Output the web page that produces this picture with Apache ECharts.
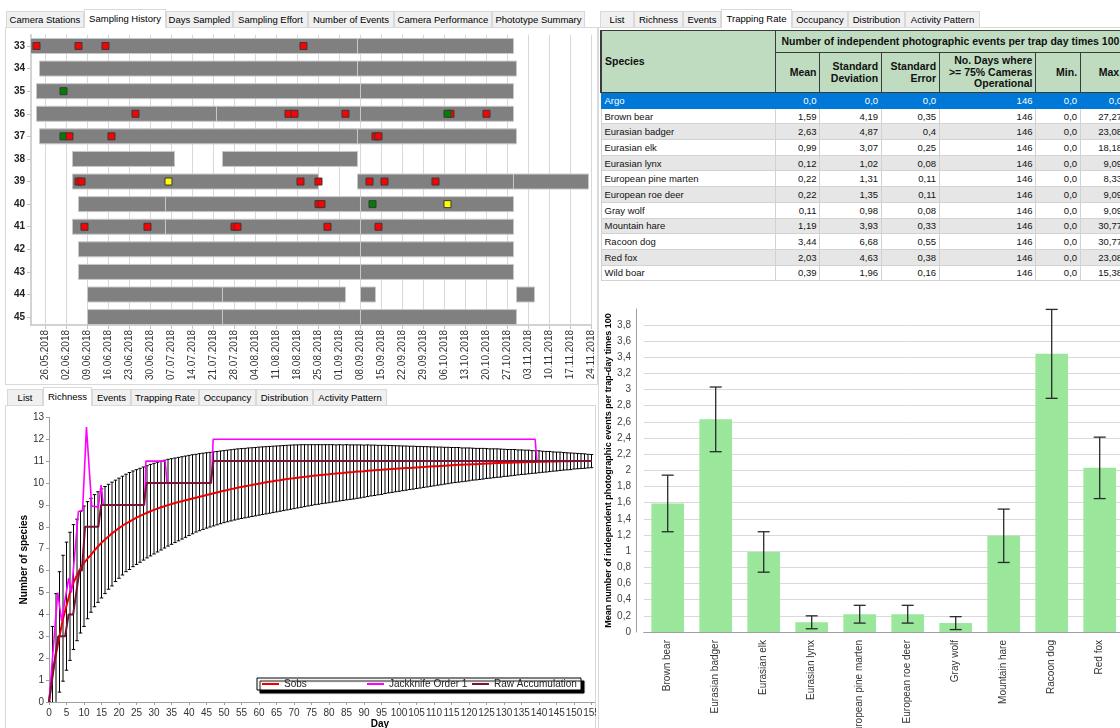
<!DOCTYPE html>
<html><head><meta charset="utf-8">
<script src="https://cdn.jsdelivr.net/npm/echarts@6.0.0/dist/echarts.min.js"></script>
<style>
html,body{margin:0;padding:0;width:1120px;height:728px;overflow:hidden;background:#fff;font-family:"Liberation Sans",Arial,sans-serif;}
.abs{position:absolute;}
.panel{position:absolute;border:1px solid #d9d9d9;box-sizing:border-box;background:#fff;}
.tab{position:absolute;height:16px;box-sizing:border-box;border:1px solid #d9d9d9;border-bottom:none;background:#f0f0f0;font-size:9.5px;line-height:15px;text-align:center;color:#000;white-space:nowrap;}
.tab.active{height:19px;background:#fff;z-index:2;}
#tbl{position:absolute;left:600px;top:30px;border-collapse:collapse;table-layout:fixed;font-size:9.5px;color:#111;}
#tbl th{background:#c0dcc0;border:1px solid #3a3a3a;font-weight:bold;padding:0 3px;color:#111;line-height:11.5px;font-size:10.5px;}
#tbl td{border:1px solid #d2d2d2;padding:0 3px;white-space:nowrap;overflow:hidden;line-height:13px;}
#tbl td.num{text-align:right;}
#tbl tr.alt td{background:#e6e6e6;}
#tbl tr.sel td{background:#0078d7;color:#fff;border-color:#0078d7;}
</style>
</head><body>
<div class="panel" style="left:5px;top:27px;width:593px;height:358px"></div>
<div class="panel" style="left:598px;top:27px;width:540px;height:720px;border-right:none"></div>
<div class="panel" style="left:5px;top:405px;width:591px;height:340px"></div>
<div id="tabsTL"></div><div id="tabsTR"></div><div id="tabsBL"></div>
<div id="gantt" class="abs" style="left:0;top:28px;width:598px;height:360px"></div>
<table id="tbl"></table>
<div id="rich" class="abs" style="left:0;top:405px;width:596px;height:323px"></div>
<div id="bars" class="abs" style="left:598px;top:290px;width:600px;height:438px"></div>
<script>
// ---------------- DATA ----------------
const tabsTopLeft = ['Camera Stations','Sampling History','Days Sampled','Sampling Effort','Number of Events','Camera Performance','Phototype Summary'];
const tabsAnalysis = ['List','Richness','Events','Trapping Rate','Occupancy','Distribution','Activity Pattern'];

const ganttStations = ['33','34','35','36','37','38','39','40','41','42','43','44','45'];
const ganttTickDates = ['2018-05-26','2018-06-02','2018-06-09','2018-06-16','2018-06-23','2018-06-30','2018-07-07','2018-07-14','2018-07-21','2018-07-28','2018-08-04','2018-08-11','2018-08-18','2018-08-25','2018-09-01','2018-09-08','2018-09-15','2018-09-22','2018-09-29','2018-10-06','2018-10-13','2018-10-20','2018-10-27','2018-11-03','2018-11-10','2018-11-17','2018-11-24'];
const ganttPeriods = [
 ['33','2018-05-21','2018-09-07'],['33','2018-09-07','2018-10-29'],
 ['34','2018-05-24','2018-09-07'],['34','2018-09-07','2018-10-30'],
 ['35','2018-05-23','2018-09-08'],['35','2018-09-08','2018-10-29'],
 ['36','2018-05-23','2018-07-22'],['36','2018-07-22','2018-09-08'],['36','2018-09-08','2018-10-29'],
 ['37','2018-05-24','2018-09-07'],['37','2018-09-07','2018-10-30'],
 ['38','2018-06-04','2018-07-08'],['38','2018-07-24','2018-09-07'],
 ['39','2018-06-04','2018-08-25'],['39','2018-09-07','2018-10-29'],['39','2018-10-29','2018-11-23'],
 ['40','2018-06-06','2018-07-05'],['40','2018-07-05','2018-09-08'],['40','2018-09-08','2018-10-29'],
 ['41','2018-06-04','2018-07-05'],['41','2018-07-05','2018-09-08'],['41','2018-09-08','2018-10-29'],
 ['42','2018-06-06','2018-09-08'],['42','2018-09-08','2018-10-29'],
 ['43','2018-06-06','2018-09-08'],['43','2018-09-08','2018-10-29'],
 ['44','2018-06-09','2018-07-24'],['44','2018-07-24','2018-09-03'],['44','2018-09-08','2018-09-13'],['44','2018-10-30','2018-11-05'],
 ['45','2018-06-09','2018-07-24'],['45','2018-07-24','2018-09-08'],['45','2018-09-08','2018-10-30']
];
const ganttEvents = [
 ['33','2018-05-23','red'],['33','2018-06-06','red'],['33','2018-06-15','red'],['33','2018-08-20','red'],
 ['35','2018-06-01','green'],
 ['36','2018-06-25','red'],['36','2018-08-15','red'],['36','2018-08-17','red'],['36','2018-09-03','red'],['36','2018-10-08','red'],['36','2018-10-07','green'],['36','2018-10-20','red'],
 ['37','2018-06-01','green'],['37','2018-06-03','red'],['37','2018-06-17','red'],['37','2018-09-13','red'],['37','2018-09-14','red'],
 ['39','2018-06-06','red'],['39','2018-06-07','red'],['39','2018-07-06','yellow'],['39','2018-08-19','red'],['39','2018-08-25','red'],['39','2018-09-11','red'],['39','2018-09-16','red'],['39','2018-10-03','red'],
 ['40','2018-08-25','red'],['40','2018-08-26','red'],['40','2018-09-12','green'],['40','2018-10-07','yellow'],
 ['41','2018-06-08','red'],['41','2018-06-29','red'],['41','2018-07-28','red'],['41','2018-07-29','red'],['41','2018-08-28','red'],['41','2018-09-14','red']
];

const species = ['Argo','Brown bear','Eurasian badger','Eurasian elk','Eurasian lynx','European pine marten','European roe deer','Gray wolf','Mountain hare','Racoon dog','Red fox','Wild boar'];
const rateMean = [0,1.59,2.63,0.99,0.12,0.22,0.22,0.11,1.19,3.44,2.03,0.39];
const rateSD   = [0,4.19,4.87,3.07,1.02,1.31,1.35,0.98,3.93,6.68,4.63,1.96];
const rateSE   = [0,0.35,0.4,0.25,0.08,0.11,0.11,0.08,0.33,0.55,0.38,0.16];
const rateDays = [146,146,146,146,146,146,146,146,146,146,146,146];
const rateMin  = [0,0,0,0,0,0,0,0,0,0,0,0];
const rateMax  = [0,27.27,23.08,18.18,9.09,8.33,9.09,9.09,30.77,30.77,23.08,15.38];

const richDays = 156;
const sobs = [0,1.3,2.2,3.0,3.8,4.4,5.0,5.45,5.8,6.1,
 6.35,6.55,6.72,6.92,7.1,7.27,7.42,7.56,7.7,7.82,
 7.94,8.05,8.15,8.24,8.33,8.42,8.5,8.57,8.64,8.71,
 8.77,8.83,8.89,8.94,8.99,9.04,9.09,9.13,9.17,9.21,
 9.25,9.29,9.33,9.37,9.41,9.45,9.49,9.53,9.57,9.61,
 9.65,9.68,9.72,9.75,9.79,9.82,9.85,9.88,9.91,9.94,
 9.97,10.0,10.03,10.06,10.08,10.11,10.13,10.16,10.18,10.2,
 10.22,10.24,10.26,10.28,10.3,10.32,10.34,10.35,10.37,10.39,
 10.4,10.42,10.43,10.45,10.46,10.48,10.49,10.5,10.52,10.53,
 10.54,10.56,10.57,10.58,10.59,10.6,10.62,10.63,10.64,10.65,
 10.66,10.67,10.68,10.69,10.7,10.71,10.72,10.73,10.74,10.75,
 10.76,10.77,10.78,10.79,10.8,10.81,10.82,10.83,10.83,10.84,
 10.85,10.86,10.86,10.87,10.88,10.89,10.89,10.9,10.91,10.91,
 10.92,10.92,10.93,10.94,10.94,10.95,10.95,10.96,10.96,10.96,
 10.97,10.97,10.97,10.98,10.98,10.98,10.99,10.99,10.99,10.99,
 11.0,11.0,11.0,11.0,11.0,11.0];
// error bar extent above / below Sobs, per day
const errUp = [0,2.15,2.75,2.95,2.9,2.9,2.75,2.65,2.55,2.6,
 2.6,2.6,2.58,2.55,2.5,2.46,2.42,2.38,2.34,2.31,
 2.28,2.26,2.25,2.24,2.22,2.19,2.17,2.16,2.15,2.14,
 2.13,2.12,2.11,2.1,2.09,2.07,2.05,2.04,2.03,2.02,
 2.01,2.0,1.98,1.97,1.95,1.93,1.91,1.89,1.87,1.85,
 1.83,1.82,1.8,1.79,1.77,1.75,1.73,1.72,1.7,1.68,
 1.67,1.65,1.63,1.61,1.6,1.58,1.57,1.55,1.54,1.53,
 1.52,1.5,1.49,1.47,1.45,1.43,1.41,1.4,1.38,1.36,
 1.35,1.33,1.31,1.3,1.28,1.27,1.25,1.24,1.22,1.21,
 1.19,1.18,1.16,1.15,1.13,1.12,1.1,1.08,1.07,1.05,
 1.04,1.02,1.01,0.99,0.98,0.96,0.95,0.93,0.92,0.9,
 0.89,0.87,0.86,0.84,0.83,0.81,0.8,0.79,0.77,0.76,
 0.75,0.73,0.72,0.71,0.7,0.68,0.67,0.66,0.65,0.64,
 0.62,0.61,0.6,0.59,0.57,0.56,0.55,0.54,0.52,0.51,
 0.5,0.48,0.47,0.46,0.44,0.43,0.42,0.4,0.39,0.38,
 0.36,0.35,0.34,0.33,0.31,0.3];
const errDown = [0,2.2,2.7,2.55,2.85,2.95,3.1,3.05,3.0,2.95,
 2.9,2.75,2.62,2.57,2.55,2.52,2.47,2.41,2.4,2.32,
 2.29,2.25,2.2,2.19,2.15,2.14,2.12,2.09,2.06,2.04,
 2.01,1.98,1.95,1.91,1.87,1.84,1.81,1.77,1.73,1.69,
 1.65,1.61,1.57,1.55,1.53,1.51,1.5,1.49,1.48,1.47,
 1.46,1.45,1.45,1.44,1.44,1.44,1.44,1.44,1.44,1.44,
 1.44,1.44,1.44,1.44,1.43,1.43,1.42,1.42,1.41,1.4,
 1.39,1.38,1.37,1.36,1.35,1.34,1.33,1.32,1.31,1.31,
 1.3,1.29,1.28,1.27,1.26,1.25,1.24,1.23,1.22,1.21,
 1.19,1.18,1.16,1.15,1.13,1.12,1.1,1.08,1.07,1.05,
 1.04,1.02,1.01,0.99,0.98,0.96,0.95,0.93,0.92,0.9,
 0.89,0.87,0.86,0.84,0.83,0.81,0.8,0.79,0.77,0.76,
 0.75,0.73,0.72,0.71,0.7,0.68,0.67,0.66,0.65,0.64,
 0.62,0.61,0.6,0.59,0.57,0.56,0.55,0.54,0.52,0.51,
 0.5,0.48,0.47,0.46,0.44,0.43,0.42,0.4,0.39,0.38,
 0.36,0.35,0.34,0.33,0.31,0.3];
const jackknife1 = [[0,0],[2.5,5.0],[3.6,3.7],[5.6,5.65],[6.4,5.0],[8.4,8.7],[9.6,8.75],[10.7,12.55],[12.2,8.95],[14.1,8.9],[14.9,9.9],[15.5,9.0],[27.3,9],[27.7,11],[33.2,11],[33.7,10],[46.4,10],[46.9,12],[138.9,12],[139.4,11],[155,11]];
const rawAccum = [[0,0],[2.6,3],[4.6,3],[5.6,4],[6.9,4],[8.7,6],[9.4,6],[10.3,8],[14.1,8],[14.9,9],[27.1,9],[27.9,10],[46.2,10],[47,11],[155,11]];
const richLegend = ['Sobs','Jackknife Order 1','Raw Accumulation'];

// ---------------- LAYOUT / STYLE ----------------
const FONT = '"Liberation Sans", Arial, sans-serif';
const eventColors = {red:'#ff0000', green:'#008000', yellow:'#ffff00'};

function buildTabs(id, labels, left0, widths, top, active){
  const el = document.getElementById(id);
  let x = left0, html = '';
  labels.forEach((t,i)=>{
    const a = i===active;
    html += '<div class="tab'+(a?' active':'')+'" style="left:'+x+'px;top:'+(a?top-2:top)+'px;width:'+widths[i]+'px;line-height:'+(a?17:15)+'px">'+t+'</div>';
    x += widths[i];
  });
  el.innerHTML = html;
}
buildTabs('tabsTL', tabsTopLeft, 6, [78,82,67,75,86,98,93], 11, 1);
buildTabs('tabsTR', tabsAnalysis, 600, [34,49,38,71,56,57,75], 11, 3);
buildTabs('tabsBL', tabsAnalysis, 7, [36,49,39,68,57,57,74], 389, 1);

// ---------------- TABLE ----------------
function fmtDec(v){ return Number.isInteger(v) ? v + ',0' : String(v).replace('.', ','); }
(function(){
  const widths = [174.3,44.7,61.6,58,96.4,44.6,45];
  const tbl = document.getElementById('tbl');
  tbl.style.width = widths.reduce((a,b)=>a+b,0) + 'px';
  let h = '<colgroup>' + widths.map(w=>'<col style="width:'+w+'px">').join('') + '</colgroup>';
  h += '<tr style="height:22px"><th rowspan="2" style="text-align:left;border-left:2px solid #3a3a3a">Species</th><th colspan="6" style="text-align:center;white-space:nowrap">Number of independent photographic events per trap day times 100</th></tr>';
  h += '<tr style="height:40px"><th style="text-align:right">Mean</th><th style="text-align:right">Standard<br>Deviation</th><th style="text-align:right">Standard<br>Error</th><th style="text-align:right">No. Days where<br>&gt;= 75% Cameras<br>Operational</th><th style="text-align:right">Min.</th><th style="text-align:right">Max.</th></tr>';
  species.forEach((s,i)=>{
    const cls = i===0 ? 'sel' : (i%2===0 ? 'alt' : '');
    h += '<tr class="'+cls+'" style="height:15.7px"><td>'+s+'</td><td class="num">'+fmtDec(rateMean[i])+'</td><td class="num">'+fmtDec(rateSD[i])+'</td><td class="num">'+fmtDec(rateSE[i])+'</td><td class="num">'+rateDays[i]+'</td><td class="num">'+fmtDec(rateMin[i])+'</td><td class="num">'+fmtDec(rateMax[i])+'</td></tr>';
  });
  tbl.innerHTML = h;
})();

// ---------------- GANTT ----------------
const ORIGIN = Date.UTC(2018,4,26);
function toDay(s){ const p = s.split('-').map(Number); return (Date.UTC(p[0],p[1]-1,p[2]) - ORIGIN)/86400000; }
function dayLabel(d){ const dt = new Date(ORIGIN + d*86400000); const dd = String(dt.getUTCDate()).padStart(2,'0'); const mm = String(dt.getUTCMonth()+1).padStart(2,'0'); return dd+'.'+mm+'.'+dt.getUTCFullYear(); }
const tickDays = ganttTickDates.map(toDay);
const rowIdx = s => ganttStations.indexOf(s);

const gantt = echarts.init(document.getElementById('gantt'), null, {renderer:'canvas'});
gantt.setOption({
  animation:false,
  textStyle:{fontFamily:FONT},
  grid:{left:31, right:6.5, top:6.7, bottom:63, containLabel:false, outerBoundsMode:'none'},
  xAxis:{type:'value', min:-4.83, max:tickDays[tickDays.length-1],
    axisLine:{onZero:false, lineStyle:{color:'#c4c4c4', width:1.5}},
    axisTick:{customValues:tickDays, length:4, lineStyle:{color:'#c4c4c4'}},
    axisLabel:{customValues:tickDays, rotate:90, fontSize:10, color:'#333', margin:5, formatter:v=>dayLabel(v)},
    splitLine:{show:false}},
  yAxis:{type:'value', inverse:true, min:-0.5, max:12.35,
    axisLine:{show:true, onZero:false, lineStyle:{color:'#c4c4c4', width:1.5}},
    axisTick:{show:true, customValues:ganttStations.map((s,i)=>i), length:4, lineStyle:{color:'#c4c4c4'}},
    axisLabel:{customValues:ganttStations.map((s,i)=>i), fontSize:10, fontWeight:'bold', color:'#222', margin:6, formatter:v=>ganttStations[v]},
    splitLine:{show:false}},
  series:[
    {type:'custom', name:'grid', silent:true, z:1,
     data: tickDays.map(d=>[d, 0]),
     renderItem:(params, api)=>{
       const x = api.coord([api.value(0), 0])[0];
       const cs = params.coordSys;
       return {type:'line', shape:{x1:x, y1:cs.y, x2:x, y2:cs.y+cs.height}, style:{stroke:'#d8d8d8', lineWidth:1}};
     }},
    {type:'custom', name:'Operational', clip:true, z:2,
     data: ganttPeriods.map(p=>[toDay(p[1]), toDay(p[2]), rowIdx(p[0])]),
     encode:{x:[0,1], y:2},
     renderItem:(params, api)=>{
       const a = api.coord([api.value(0), api.value(2)]);
       const b = api.coord([api.value(1), api.value(2)]);
       const h = 15;
       return {type:'rect', shape:{x:a[0], y:a[1]-h/2, width:b[0]-a[0], height:h}, style:{fill:'#808080', stroke:'#c8c8c8', lineWidth:1}};
     }},
    {type:'custom', name:'Events', clip:true, z:3,
     data: ganttEvents.map(e=>[toDay(e[1]), rowIdx(e[0])]),
     encode:{x:0, y:1},
     renderItem:(params, api)=>{
       const c = api.coord([api.value(0), api.value(1)]);
       const s = 7;
       return {type:'rect', shape:{x:c[0]-s/2, y:c[1]-s/2, width:s, height:s}, style:{fill:eventColors[ganttEvents[params.dataIndex][2]], stroke:'#383838', lineWidth:1}};
     }}
  ]
});

// ---------------- RICHNESS ----------------
const dayIdx = Array.from({length:richDays}, (_,i)=>i);
const rich = echarts.init(document.getElementById('rich'));
rich.setOption({
  animation:false,
  textStyle:{fontFamily:FONT},
  grid:{left:49, right:1, top:12.3, bottom:26, containLabel:false, outerBoundsMode:'none'},
  legend:{data:richLegend, left:257, top:273, icon:'rect', itemWidth:17, itemHeight:2, itemGap:0, padding:[1,4,1,5],
    backgroundColor:'#fff', borderColor:'#000', borderWidth:1, borderRadius:0,
    shadowColor:'#000', shadowBlur:1, shadowOffsetX:3, shadowOffsetY:3,
    itemStyle:{borderWidth:0},
    selectedMode:false,
    formatter: n => '{a|' + n + '}',
    textStyle:{fontSize:10, color:'#222', rich:{a:{width:83, fontSize:10, color:'#222', lineHeight:12}}}},
  xAxis:{type:'value', min:0, max:156, interval:5,
    name:'Day', nameLocation:'middle', nameGap:17, nameMoveOverlap:false, nameTextStyle:{fontWeight:'bold', fontSize:10, color:'#000', padding:[0,0,0,116]},
    axisLine:{onZero:false, lineStyle:{color:'#a0a0a0'}}, axisTick:{length:3, lineStyle:{color:'#a0a0a0'}},
    axisLabel:{fontSize:10, color:'#333', margin:6, showMaxLabel:false, formatter:v=> (v%5===0 ? String(v) : '')},
    splitLine:{show:false}},
  yAxis:{type:'value', min:0, max:13, interval:1,
    name:'Number of species', nameLocation:'middle', nameGap:20, nameMoveOverlap:false, nameTextStyle:{fontWeight:'bold', fontSize:10, color:'#000'},
    axisLine:{show:true, lineStyle:{color:'#a0a0a0'}}, axisTick:{show:true, length:3, lineStyle:{color:'#a0a0a0'}},
    axisLabel:{fontSize:10, color:'#333', margin:5},
    splitLine:{show:false}},
  series:[
    {type:'custom', name:'SD', clip:true, z:1, silent:true,
     data: dayIdx.map(d=>[d, sobs[d]-errDown[d], sobs[d]+errUp[d]]),
     encode:{x:0, y:[1,2]},
     renderItem:(params, api)=>{
       const x = api.value(0);
       const hi = api.coord([x, api.value(2)]), lo = api.coord([x, api.value(1)]);
       const w = 1.75, st = {stroke:'#000', lineWidth:1};
       return {type:'group', children:[
         {type:'line', shape:{x1:hi[0], y1:hi[1], x2:lo[0], y2:lo[1]}, style:st},
         {type:'line', shape:{x1:hi[0]-w, y1:hi[1], x2:hi[0]+w, y2:hi[1]}, style:st},
         {type:'line', shape:{x1:lo[0]-w, y1:lo[1], x2:lo[0]+w, y2:lo[1]}, style:st}
       ]};
     }},
    {type:'line', name:'Sobs', data: dayIdx.map(d=>[d, sobs[d]]), symbol:'none', z:3, lineStyle:{color:'#ee0000', width:2}, itemStyle:{color:'#ee0000'}},
    {type:'line', name:'Jackknife Order 1', data: jackknife1, symbol:'none', z:4, lineStyle:{color:'#ff00ff', width:1.6}, itemStyle:{color:'#ff00ff'}},
    {type:'line', name:'Raw Accumulation', data: rawAccum, symbol:'none', z:5, lineStyle:{color:'#7a1438', width:2}, itemStyle:{color:'#7a1438'}}
  ]
});

// ---------------- TRAPPING RATE BARS ----------------
const barIdx = species.map((s,i)=>i).filter(i=>rateMean[i]>0);
const barNames = barIdx.map(i=>species[i]);
const barMeans = barIdx.map(i=>rateMean[i]);
const barSE = barIdx.map(i=>rateSE[i]);
const bars = echarts.init(document.getElementById('bars'));
bars.setOption({
  animation:false,
  textStyle:{fontFamily:FONT},
  grid:{left:45.7, right:26.3, top:19, bottom:96, containLabel:false, outerBoundsMode:'none'},
  xAxis:{type:'category', data:barNames,
    axisLine:{lineStyle:{color:'#a0a0a0'}}, axisTick:{show:false},
    axisLabel:{rotate:90, interval:0, fontSize:10, color:'#333', margin:8}},
  yAxis:{type:'value', min:0, max:3.995, interval:0.2, offset:7.7,
    name:'Mean number of independent photographic events per trap-day times 100', nameLocation:'middle', nameGap:23, nameMoveOverlap:false,
    nameTextStyle:{fontWeight:'bold', fontSize:9, color:'#000'},
    axisLine:{show:true, lineStyle:{color:'#a0a0a0'}}, axisTick:{show:false},
    axisLabel:{fontSize:10, color:'#444', margin:5, showMaxLabel:false, formatter:v=>String(Math.round(v*10)/10).replace('.', ',')},
    splitLine:{lineStyle:{color:'#d9d9d9'}, showMaxLine:false}},
  series:[
    {type:'bar', name:'Mean', data:barMeans, barWidth:'68%', itemStyle:{color:'#9ae69a'}, z:2},
    {type:'custom', name:'SE', z:3, silent:true,
     data: barMeans.map((m,i)=>[i, m-barSE[i], m+barSE[i]]),
     encode:{x:0, y:[1,2]},
     renderItem:(params, api)=>{
       const i = api.value(0);
       const hi = api.coord([i, api.value(2)]), lo = api.coord([i, api.value(1)]);
       const w = 6, st = {stroke:'#2a2a2a', lineWidth:1.3};
       return {type:'group', children:[
         {type:'line', shape:{x1:hi[0], y1:hi[1], x2:lo[0], y2:lo[1]}, style:st},
         {type:'line', shape:{x1:hi[0]-w, y1:hi[1], x2:hi[0]+w, y2:hi[1]}, style:st},
         {type:'line', shape:{x1:lo[0]-w, y1:lo[1], x2:lo[0]+w, y2:lo[1]}, style:st}
       ]};
     }}
  ]
});
</script>
</body></html>
